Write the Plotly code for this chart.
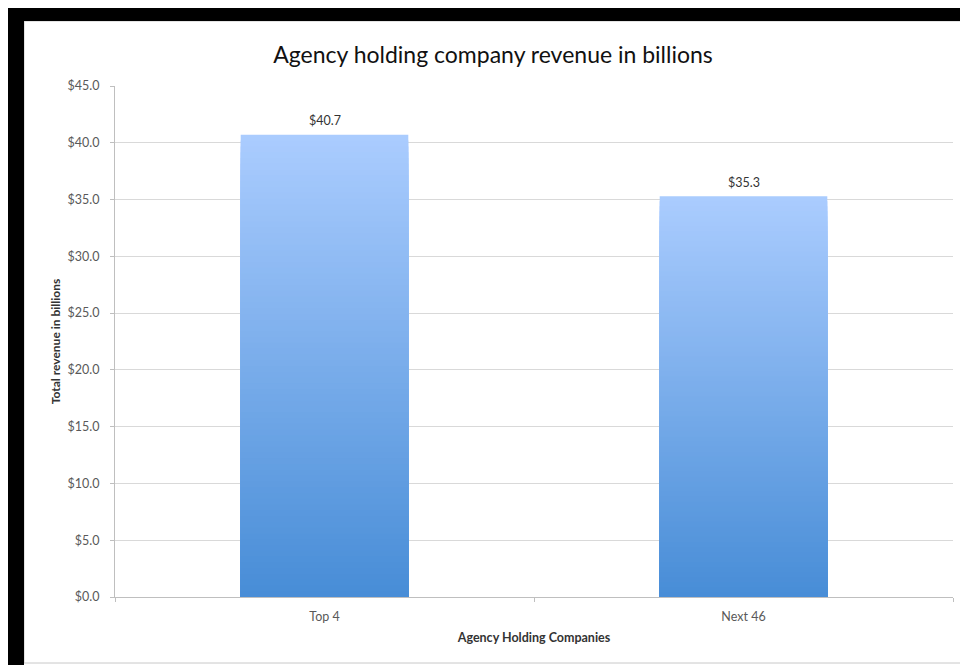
import plotly.graph_objects as go

# ---- data ----
categories = ["Top 4", "Next 46"]
revenue = [40.7, 35.3]
value_labels = ["$40.7", "$35.3"]
y_tick_vals = [0, 5, 10, 15, 20, 25, 30, 35, 40, 45]
y_tick_text = ["$0.0", "$5.0", "$10.0", "$15.0", "$20.0", "$25.0", "$30.0", "$35.0", "$40.0", "$45.0"]

title_text = "Agency holding company revenue in billions"
x_title = "Agency Holding Companies"
y_title = "Total revenue in billions"

# ---- styling ----
FONT = "Lato, Carlito, Calibri, 'Open Sans', sans-serif"
top_rgb = (170, 204, 254)
bot_rgb = (72, 141, 215)
N = 80

OFF = 8  # page body margin
W, H = 968, 665
L, R, T, B = 115 - OFF, 23, 86 - OFF, 76
pw, ph = W - L - R, H - T - B

def px_x(x):
    return (x - OFF - L) / pw

def px_y(y):
    return (H - B - (y - OFF)) / ph

fig = go.Figure()

# gradient bars: overlaid bars, tallest lightest, shorter ones darker
for k in range(N):
    f = k / (N - 1)
    c = tuple(round(top_rgb[i] + (bot_rgb[i] - top_rgb[i]) * f) for i in range(3))
    frac = (N - k) / N
    fig.add_trace(go.Bar(
        x=categories,
        y=[v * frac for v in revenue],
        marker=dict(color="rgb(%d,%d,%d)" % c, line=dict(width=0)),
        hoverinfo="skip" if k else "y",
        showlegend=False,
    ))

annotations = [
    dict(x=c, y=v, text=t, showarrow=False, xref="x", yref="y", yanchor="middle", yshift=14,
         font=dict(family=FONT, size=12.5, color="#333333"))
    for c, v, t in zip(categories, revenue, value_labels)
]

shapes = [
    # black frame (left and top)
    dict(type="rect", xref="paper", yref="paper", x0=px_x(8), x1=px_x(24), y0=px_y(680), y1=px_y(8),
         fillcolor="black", line=dict(width=0), layer="above"),
    dict(type="rect", xref="paper", yref="paper", x0=px_x(8), x1=px_x(980), y0=px_y(21), y1=px_y(8),
         fillcolor="black", line=dict(width=0), layer="above"),
    # light inner border
    dict(type="rect", xref="paper", yref="paper", x0=px_x(24), x1=px_x(966), y0=px_y(663), y1=px_y(21),
         fillcolor="rgba(0,0,0,0)", line=dict(width=1, color="#c8c8c8"), layer="below"),
]

fig.update_layout(
    width=W, height=H,
    margin=dict(l=L, r=R, t=T, b=B),
    paper_bgcolor="white", plot_bgcolor="white",
    barmode="overlay", bargap=0.6,
    font=dict(family=FONT, color="#595959"),
    title=dict(text=title_text, x=(493 - OFF) / W, xanchor="center", y=1 - (55 - OFF) / H, yanchor="middle",
               font=dict(family=FONT, size=23, color="#111111")),
    shapes=shapes,
    annotations=annotations,
    showlegend=False,
)

fig.update_xaxes(
    type="category", tickson="boundaries", ticks="outside", ticklen=4, tickcolor="#bfbfbf",
    ticklabelstandoff=8,
    showline=True, linecolor="#bfbfbf", linewidth=1, showgrid=False,
    tickfont=dict(family=FONT, size=12.5, color="#595959"),
    title=dict(text="<b>" + x_title + "</b>", standoff=10,
               font=dict(family=FONT, size=12.5, color="#333333")),
)
fig.update_yaxes(
    range=[0, 45], tickvals=y_tick_vals, ticktext=y_tick_text,
    ticks="outside", ticklen=4, tickcolor="#bfbfbf", ticklabelstandoff=8,
    showline=True, linecolor="#bfbfbf", linewidth=1,
    showgrid=True, gridcolor="#d9d9d9", gridwidth=1, zeroline=False,
    tickfont=dict(family=FONT, size=12.5, color="#595959"),
    title=dict(text="<b>" + y_title + "</b>", standoff=4,
               font=dict(family=FONT, size=12, color="#333333")),
)

fig.write_html("out.html")
